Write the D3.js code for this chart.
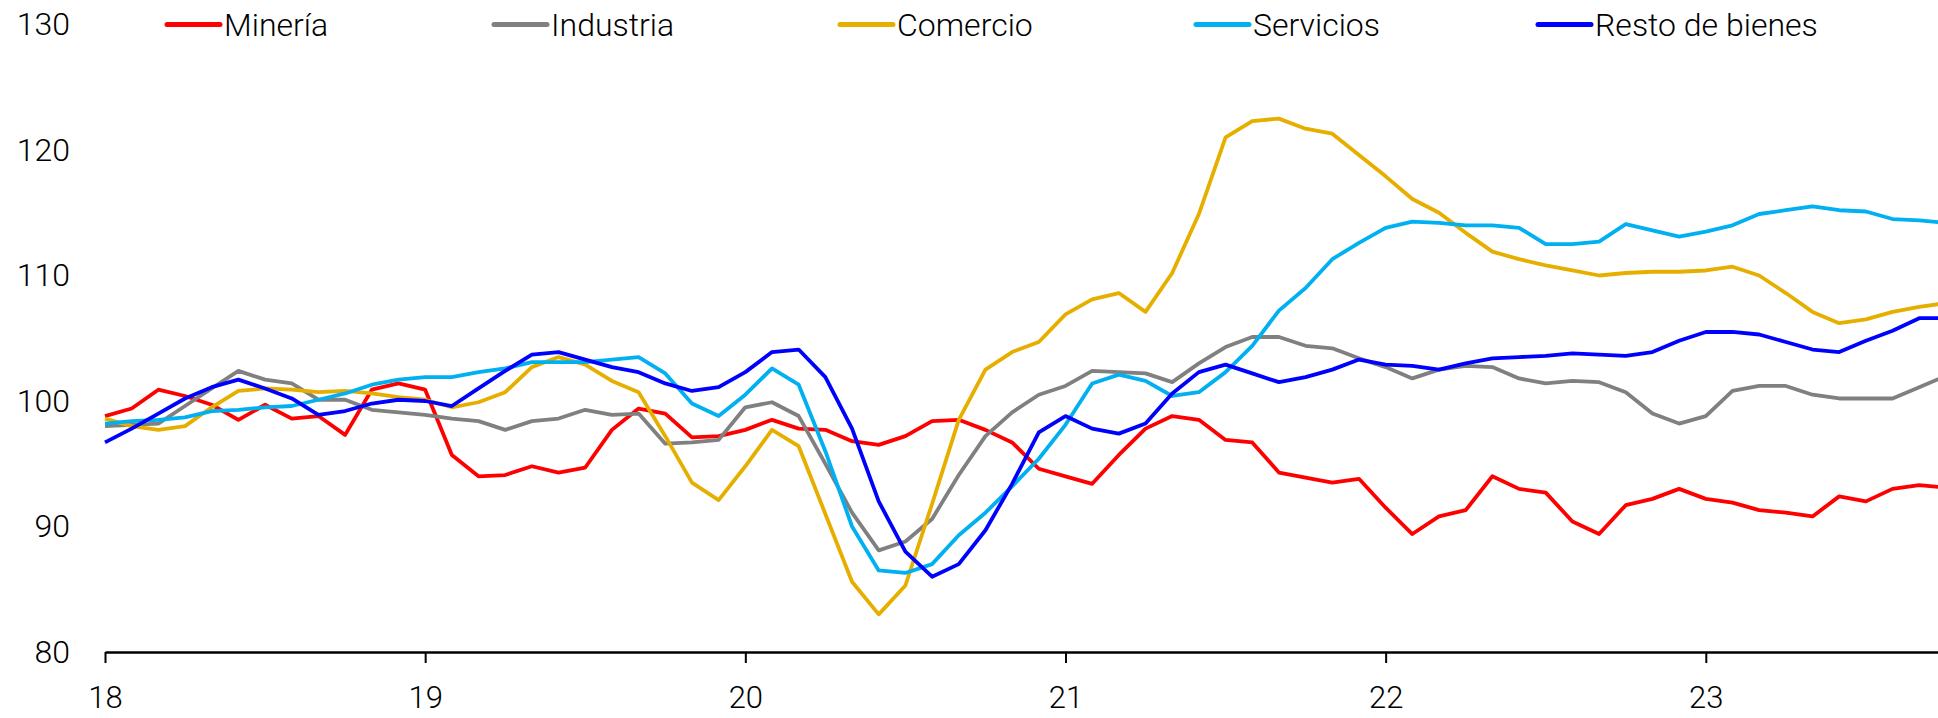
<!DOCTYPE html>
<html>
<head>
<meta charset="utf-8">
<script src="https://cdn.jsdelivr.net/npm/d3@7"></script>
<style>
  body { margin: 0; background: #fff; }
  svg { display: block; }
  text { font-family: Roboto, "Liberation Sans", sans-serif; font-weight: 300; fill: #000; }
</style>
</head>
<body>
<div id="chart"></div>
<script>
// months from Jan 2018 to Oct 2023, one value per month
var years = ["18", "19", "20", "21", "22", "23"];
var yTicks = [80, 90, 100, 110, 120, 130];
var names = ["Minería", "Industria", "Comercio", "Servicios", "Resto de bienes"];
var colors = ["#ff0000", "#808080", "#e6af00", "#00b0f0", "#0000ff"];

var mineria = [98.8, 99.4, 100.9, 100.4, 99.7, 98.5, 99.7, 98.6, 98.8, 97.3, 100.9, 101.4,
    100.9, 95.7, 94.0, 94.1, 94.8, 94.3, 94.7, 97.7, 99.4, 99.0, 97.1, 97.2,
    97.7, 98.5, 97.8, 97.7, 96.8, 96.5, 97.2, 98.4, 98.5, 97.7, 96.7, 94.6,
    94.0, 93.4, 95.7, 97.8, 98.8, 98.5, 96.9, 96.7, 94.3, 93.9, 93.5, 93.8,
    91.5, 89.4, 90.8, 91.3, 94.0, 93.0, 92.7, 90.4, 89.4, 91.7, 92.2, 93.0,
    92.2, 91.9, 91.3, 91.1, 90.8, 92.4, 92.0, 93.0, 93.3, 93.1];

var industria = [98.0, 98.1, 98.2, 99.6, 101.0, 102.4, 101.7, 101.4, 100.1, 100.1, 99.3, 99.1,
    98.9, 98.6, 98.4, 97.7, 98.4, 98.6, 99.3, 98.9, 99.0, 96.6, 96.7, 96.9,
    99.5, 99.9, 98.8, 95.0, 91.1, 88.1, 88.8, 90.6, 94.1, 97.2, 99.1, 100.5,
    101.2, 102.4, 102.3, 102.2, 101.5, 103.0, 104.3, 105.1, 105.1, 104.4, 104.2, 103.4,
    102.7, 101.8, 102.5, 102.8, 102.7, 101.8, 101.4, 101.6, 101.5, 100.7, 99.0, 98.2,
    98.8, 100.8, 101.2, 101.2, 100.5, 100.2, 100.2, 100.2, 101.1, 102.0];

var comercio = [98.6, 98.0, 97.7, 98.0, 99.5, 100.8, 101.0, 100.9, 100.7, 100.8, 100.6, 100.3,
    100.1, 99.5, 99.9, 100.7, 102.7, 103.5, 102.9, 101.6, 100.7, 97.2, 93.5, 92.1,
    94.8, 97.7, 96.4, 91.0, 85.6, 83.0, 85.3, 91.8, 98.5, 102.5, 103.9, 104.7,
    106.9, 108.1, 108.6, 107.1, 110.2, 114.9, 121.0, 122.3, 122.5, 121.7, 121.3, 119.6,
    117.9, 116.1, 115.0, 113.4, 111.9, 111.3, 110.8, 110.4, 110.0, 110.2, 110.3, 110.3,
    110.4, 110.7, 110.0, 108.6, 107.1, 106.2, 106.5, 107.1, 107.5, 107.8];

var servicios = [98.2, 98.4, 98.5, 98.7, 99.2, 99.3, 99.5, 99.6, 100.1, 100.6, 101.3, 101.7,
    101.9, 101.9, 102.3, 102.6, 103.1, 103.1, 103.1, 103.3, 103.5, 102.2, 99.8, 98.8,
    100.5, 102.6, 101.3, 96.0, 90.0, 86.5, 86.3, 87.0, 89.3, 91.1, 93.2, 95.4,
    98.1, 101.4, 102.1, 101.6, 100.4, 100.7, 102.3, 104.4, 107.2, 109.0, 111.3, 112.6,
    113.8, 114.3, 114.2, 114.0, 114.0, 113.8, 112.5, 112.5, 112.7, 114.1, 113.6, 113.1,
    113.5, 114.0, 114.9, 115.2, 115.5, 115.2, 115.1, 114.5, 114.4, 114.2];

var restoBienes = [96.7, 97.8, 99.0, 100.2, 101.1, 101.7, 101.0, 100.2, 98.9, 99.2, 99.8, 100.1,
    100.0, 99.6, 101.0, 102.4, 103.7, 103.9, 103.3, 102.7, 102.3, 101.4, 100.8, 101.1,
    102.3, 103.9, 104.1, 101.9, 97.8, 92.0, 88.0, 86.0, 87.0, 89.7, 93.4, 97.5,
    98.8, 97.8, 97.4, 98.2, 100.6, 102.3, 102.9, 102.2, 101.5, 101.9, 102.5, 103.3,
    102.9, 102.8, 102.5, 103.0, 103.4, 103.5, 103.6, 103.8, 103.7, 103.6, 103.9, 104.8,
    105.5, 105.5, 105.3, 104.7, 104.1, 103.9, 104.8, 105.6, 106.6, 106.6];

var series = [mineria, industria, comercio, servicios, restoBienes];

var width = 1938, height = 718;
var plotLeft = 105, plotTop = 24.5, plotBottom = 652;
var monthPx = 26.68;
var legendX = [167, 494, 840, 1196, 1538];

function drawChart() {
    var svg = d3.select("#chart")
        .append("svg")
        .attr("width", width)
        .attr("height", height);

    var x = d3.scaleLinear()
        .domain([0, mineria.length - 1])
        .range([plotLeft, plotLeft + (mineria.length - 1) * monthPx]);

    var y = d3.scaleLinear()
        .domain([80, 130])
        .range([plotBottom, plotTop]);

    // y labels only, no axis line
    var yAxis = svg.append("g")
        .attr("transform", "translate(" + plotLeft + ",0)")
        .call(d3.axisLeft(y).tickValues(yTicks).tickSize(0).tickPadding(35));
    yAxis.select(".domain").remove();
    yAxis.selectAll("text")
        .style("font-size", "32px");

    // x axis with year ticks
    var xAxis = svg.append("g")
        .attr("transform", "translate(0," + plotBottom + ")")
        .call(d3.axisBottom(x)
            .tickValues(years.map(function(d, i) { return i * 12; }))
            .tickFormat(function(d) { return years[d / 12]; })
            .tickSizeInner(11)
            .tickSizeOuter(0)
            .tickPadding(23));
    xAxis.select(".domain")
        .attr("stroke", "#000")
        .attr("stroke-width", 2.6);
    xAxis.selectAll(".tick line")
        .attr("stroke", "#000")
        .attr("stroke-width", 2);
    xAxis.selectAll("text")
        .style("font-size", "31px");

    var line = d3.line()
        .x(function(d, i) { return x(i); })
        .y(function(d) { return y(d); });

    svg.selectAll(".serie")
        .data(series)
        .enter()
        .append("path")
        .attr("class", "serie")
        .attr("fill", "none")
        .attr("stroke", function(d, i) { return colors[i]; })
        .attr("stroke-width", 3.8)
        .attr("stroke-linejoin", "round")
        .attr("d", line);

    // legend
    var legend = svg.selectAll(".legend")
        .data(names)
        .enter()
        .append("g")
        .attr("class", "legend")
        .attr("transform", function(d, i) { return "translate(" + legendX[i] + "," + y(130) + ")"; });
    legend.append("line")
        .attr("x1", 0)
        .attr("x2", 53)
        .attr("stroke", function(d, i) { return colors[i]; })
        .attr("stroke-width", 5)
        .attr("stroke-linecap", "round");
    legend.append("text")
        .attr("x", 57)
        .attr("dy", "0.35em")
        .style("font-size", "32px")
        .text(function(d) { return d; });
}

function init() {
    drawChart();
}

window.onload = init;
</script>
</body>
</html>
